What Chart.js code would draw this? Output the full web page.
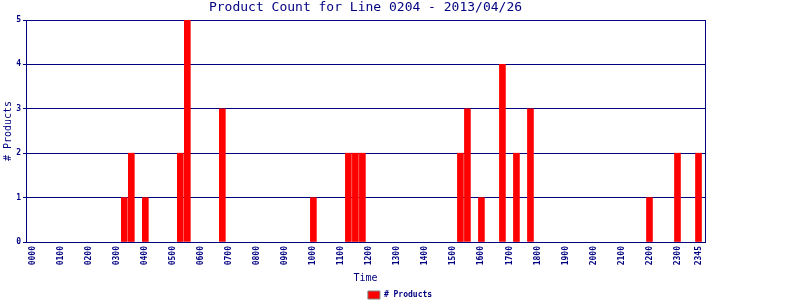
<!DOCTYPE html>
<html>
<head>
<meta charset="utf-8">
<script src="https://cdn.jsdelivr.net/npm/chart.js@4.4.1/dist/chart.umd.min.js"></script>
<style>
    html, body { margin: 0; padding: 0; background: #ffffff; }
    #chart-box { width: 800px; height: 300px; }
</style>
</head>
<body>
<div id="chart-box"><canvas id="myChart" width="800" height="300"></canvas></div>
<script>
var chart_title = "Product Count for Line 0204 - 2013/04/26";
var tick_labels = ["0000", "0100", "0200", "0300", "0400", "0500", "0600", "0700", "0800", "0900", "1000", "1100",
    "1200", "1300", "1400", "1500", "1600", "1700", "1800", "1900", "2000", "2100", "2200", "2300", "2345"];
var slot_times = ["0315", "0330", "0400", "0515", "0530", "0645", "1000", "1115", "1130", "1145",
    "1515", "1530", "1600", "1645", "1715", "1745", "2200", "2300", "2345"];
var product_counts = [1, 2, 1, 2, 5, 3, 1, 2, 2, 2, 2, 3, 1, 4, 2, 3, 1, 2, 2];

var navy = "#000080";
var mono = "'DejaVu Sans Mono', monospace";

// time "hhmm" -> index of the 15 minute slot
function slot_index(t) {
    return parseInt(t.slice(0, 2), 10) * 4 + parseInt(t.slice(2), 10) / 15;
}
var bar_points = slot_times.map(function (t, i) {
    return { x: slot_index(t), y: product_counts[i] };
});
var tick_values = tick_labels.map(slot_index);

// box round the plot area
var plot_frame = {
    id: "plot_frame",
    beforeDatasetsDraw: function (chart) {
        var a = chart.chartArea;
        var ctx = chart.ctx;
        ctx.save();
        ctx.strokeStyle = navy;
        ctx.lineWidth = 1;
        ctx.strokeRect(Math.floor(a.left) + 0.5, Math.floor(a.top) + 0.5,
            Math.floor(a.right) - Math.floor(a.left), Math.floor(a.bottom) - Math.floor(a.top));
        ctx.restore();
    }
};

var ctx = document.getElementById("myChart");
var chart = new Chart(ctx, {
    type: "bar",
    data: {
        datasets: [
            {
                label: "# Products",
                data: bar_points,
                backgroundColor: "#ff0000",
                borderWidth: 0,
                barThickness: 6
            }
        ]
    },
    plugins: [plot_frame],
    options: {
        responsive: false,
        animation: false,
        layout: { padding: 0 },
        scales: {
            x: {
                type: "linear",
                offset: false,
                min: -1.04,
                max: 95.93,
                afterBuildTicks: function (axis) {
                    axis.ticks = tick_values.map(function (v) { return { value: v }; });
                },
                afterFit: function (axis) {
                    axis.height = 46;
                },
                ticks: {
                    autoSkip: false,
                    maxRotation: 90,
                    minRotation: 90,
                    padding: 4,
                    color: navy,
                    font: { family: mono, size: 8, weight: "bold" },
                    callback: function (value) {
                        var i = tick_values.indexOf(value);
                        return i >= 0 ? tick_labels[i] : "";
                    }
                },
                grid: { display: false, drawTicks: false },
                border: { display: true, color: navy },
                title: {
                    display: true,
                    text: "Time",
                    color: navy,
                    font: { family: mono, size: 10 },
                    padding: { top: 0, bottom: 4 }
                }
            },
            y: {
                min: 0,
                max: 5,
                afterFit: function (axis) {
                    axis.width = 26;
                },
                ticks: {
                    stepSize: 1,
                    padding: 2,
                    color: navy,
                    font: { family: mono, size: 8, weight: "bold" }
                },
                grid: { color: navy, lineWidth: 1, tickLength: 3 },
                border: { display: true, color: navy },
                title: {
                    display: true,
                    text: "# Products",
                    color: navy,
                    font: { family: mono, size: 10 },
                    padding: { top: 2, bottom: 0 }
                }
            },
            // empty right axis, only keeps the white margin right of the plot
            y2: {
                position: "right",
                min: 0,
                max: 5,
                afterFit: function (axis) {
                    axis.width = 95;
                },
                ticks: { display: false },
                grid: { display: false, drawTicks: false },
                border: { display: false }
            }
        },
        plugins: {
            title: {
                display: true,
                text: chart_title,
                fullSize: false,
                color: navy,
                font: { family: mono, size: 13, weight: "normal" },
                padding: { top: 0, bottom: 4.4 }
            },
            legend: {
                position: "bottom",
                maxHeight: 12,
                labels: {
                    boxWidth: 12,
                    boxHeight: 8,
                    padding: 3,
                    color: navy,
                    font: { family: mono, size: 8, weight: "bold" },
                    generateLabels: function (c) {
                        var items = Chart.defaults.plugins.legend.labels.generateLabels(c);
                        items.forEach(function (it) {
                            it.strokeStyle = "#808080";
                            it.lineWidth = 1;
                        });
                        return items;
                    }
                }
            },
            tooltip: { enabled: false }
        }
    }
});
</script>
</body>
</html>
